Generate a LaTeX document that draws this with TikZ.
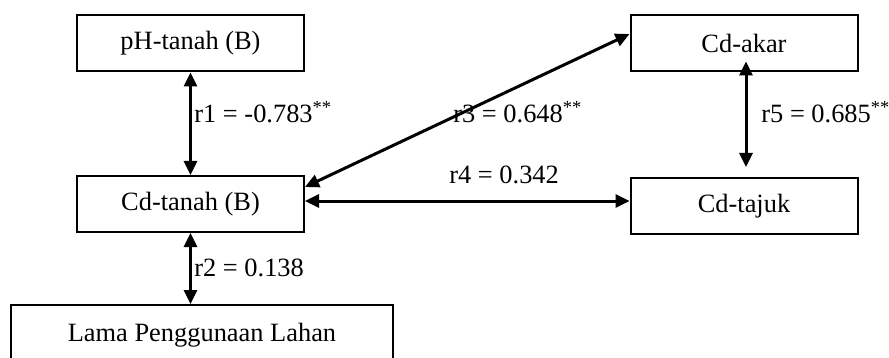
\documentclass[tikz,border=0pt]{standalone}
\usepackage{fontspec}
\setmainfont{Liberation Serif}
\usetikzlibrary{arrows.meta}

\begin{document}
\begin{tikzpicture}[x=0.5pt,y=-0.5pt,font=\fontsize{13.2pt}{16pt}\selectfont]
    \clip (0,0) rectangle (889,358);
    \begin{scope}[every node/.style={rectangle,draw,line width=1pt,inner sep=0pt,
        minimum width=113.5pt,minimum height=28pt}]
      \node (ph) at (190.5,43.5) {pH-tanah (B)};
      \node (cdtanah) at (190.5,204) {Cd-tanah (B)};
      \node[minimum width=191pt,minimum height=30pt] (lama) at (202,335) {Lama Penggunaan Lahan};
      \node (cdakar) at (744,43.5) {Cd-akar};
      \node (cdtajuk) at (744,206) {Cd-tajuk};
    \end{scope}

    \begin{scope}[>={Triangle[length=7pt,width=6.5pt]},
        every edge/.style={draw,line width=1.5pt}]
      \path [<->] (ph.south) edge (cdtanah.north);
      \path [<->] (cdtanah.south) edge (cdtanah.south |- lama.north);
      \path [<->] ([yshift=8.5pt]cdtanah.east) edge ([yshift=4.75pt]cdakar.west);
      \path [<->] ([yshift=1.5pt]cdtanah.east) edge ([yshift=1.5pt]cdtanah.east -| cdtajuk.west);
      \path [<->] ([xshift=1pt,yshift=5.5pt]cdakar.south) edge ([xshift=1pt,yshift=5pt]cdtajuk.north);
    \end{scope}

    \begin{scope}[every node/.style={anchor=west,inner sep=0pt}]
      \node (lr1) at (194,112) {r1 = -0.783\textsuperscript{**}};
      \node (lr2) at (194,268) {r2 = 0.138};
      \node (lr3) at (453,112) {r3 = 0.648\textsuperscript{**}};
      \node (lr4) at (449,175) {r4 = 0.342};
      \node (lr5) at (761,112) {r5 = 0.685\textsuperscript{**}};
    \end{scope}
  \end{tikzpicture}
\end{document}
